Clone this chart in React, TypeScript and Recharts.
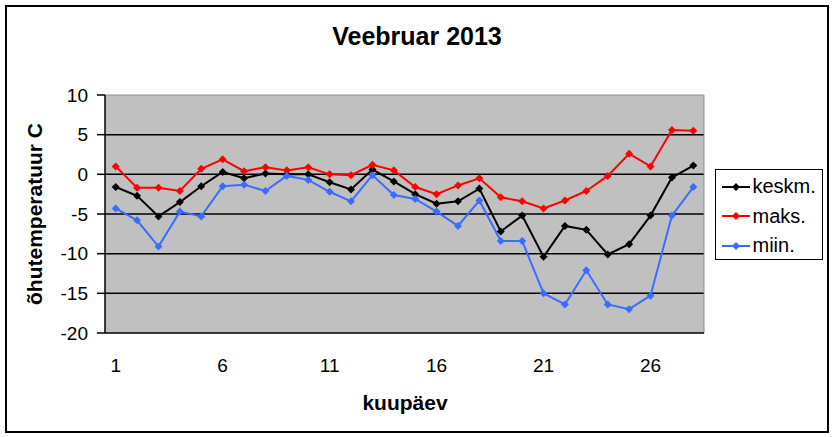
import React from "react";
import { LineChart, Line, XAxis, YAxis, CartesianGrid, ReferenceLine } from "recharts";

const days = [1, 2, 3, 4, 5, 6, 7, 8, 9, 10, 11, 12, 13, 14, 15, 16, 17, 18, 19, 20, 21, 22, 23, 24, 25, 26, 27, 28];
const keskm = [-1.6, -2.7, -5.3, -3.5, -1.5, 0.3, -0.5, 0.1, 0, 0, -1.0, -1.9, 0.6, -0.9, -2.5, -3.7, -3.4, -1.8, -7.2, -5.2, -10.4, -6.5, -7.0, -10.1, -8.8, -5.2, -0.4, 1.1];
const maks = [1.0, -1.7, -1.7, -2.1, 0.7, 1.9, 0.4, 0.9, 0.5, 0.9, 0, -0.1, 1.2, 0.5, -1.6, -2.5, -1.4, -0.5, -2.9, -3.4, -4.3, -3.3, -2.1, -0.2, 2.6, 1.0, 5.6, 5.5];
const miin = [-4.3, -5.8, -9.1, -4.7, -5.3, -1.5, -1.3, -2.1, -0.2, -0.7, -2.2, -3.4, -0.1, -2.6, -3.1, -4.7, -6.5, -3.3, -8.4, -8.4, -15.0, -16.4, -12.1, -16.4, -17.0, -15.3, -5.2, -1.6];

const dayLabels = [1, 6, 11, 16, 21, 26];
const yTicks = [-20, -15, -10, -5, 0, 5, 10];
const gridValues = [5, 0, -5, -10, -15];

const series = [
  { key: "keskm", name: "keskm.", color: "#000000" },
  { key: "maks", name: "maks.", color: "#ff0000" },
  { key: "miin", name: "miin.", color: "#3a6cff" },
];

const data = days.map((day, i) => ({ day, keskm: keskm[i], maks: maks[i], miin: miin[i] }));
// tick marks sit between the days, like a category axis
const boundaryTicks = [0.5, ...days.map((d) => d + 0.5)];

const FONT = '"Liberation Sans", Arial, sans-serif';

function Diamond(props: any) {
  const { cx, cy, stroke } = props;
  if (cx == null || cy == null) return null;
  const r = 4;
  return <polygon points={`${cx},${cy - r} ${cx + r},${cy} ${cx},${cy + r} ${cx - r},${cy}`} fill={stroke} />;
}

function LegendBox() {
  return (
    <div
      style={{
        position: "absolute",
        left: 715,
        top: 169,
        width: 108,
        height: 91,
        border: "1.5px solid #000",
        background: "#fff",
        fontFamily: FONT,
        fontSize: 20,
        paddingTop: 2,
        boxSizing: "border-box",
      }}
    >
      {series.map((s) => (
        <div key={s.key} style={{ display: "flex", alignItems: "center", height: 29.5, paddingLeft: 5.5 }}>
          <svg width={28} height={10} style={{ marginRight: 3 }}>
            <line x1={0} y1={5} x2={28} y2={5} stroke={s.color} strokeWidth={2} />
            <polygon points="14,1 18,5 14,9 10,5" fill={s.color} />
          </svg>
          <span>{s.name}</span>
        </div>
      ))}
    </div>
  );
}

export default function App() {
  return (
    <div style={{ position: "absolute", left: 0, top: 0, width: 834, height: 437, background: "#fff", fontFamily: FONT }}>
      <div
        style={{
          position: "absolute",
          left: 5,
          top: 5,
          width: 824,
          height: 428,
          border: "2px solid #000",
          boxSizing: "border-box",
        }}
      />
      <div
        style={{
          position: "absolute",
          left: 0,
          width: 834,
          top: 22,
          textAlign: "center",
          fontWeight: "bold",
          fontSize: 25,
        }}
      >
        Veebruar 2013
      </div>
      <div
        style={{
          position: "absolute",
          left: 35,
          top: 214,
          transform: "translate(-50%, -50%) rotate(-90deg)",
          whiteSpace: "nowrap",
          fontWeight: "bold",
          fontSize: 21,
        }}
      >
        õhutemperatuur C
      </div>
      <div
        style={{
          position: "absolute",
          left: 405,
          top: 403,
          transform: "translate(-50%, -50%)",
          fontWeight: "bold",
          fontSize: 21,
        }}
      >
        kuupäev
      </div>
      <div style={{ position: "absolute", left: 0, top: 0 }}>
        <LineChart width={834} height={437} data={data} margin={{ top: 95, right: 130, bottom: 56, left: 45 }}>
          <CartesianGrid vertical={false} horizontalValues={gridValues} stroke="#000" strokeWidth={1.5} fill="#c0c0c0" />
          <XAxis
            xAxisId="a"
            type="number"
            dataKey="day"
            domain={[0.5, 28.5]}
            allowDataOverflow
            ticks={boundaryTicks}
            tick={false}
            tickSize={6}
            height={8}
            axisLine={{ stroke: "#000", strokeWidth: 1.5 }}
            tickLine={{ stroke: "#000", strokeWidth: 1.5 }}
          />
          <XAxis
            xAxisId="b"
            type="number"
            dataKey="day"
            domain={[0.5, 28.5]}
            allowDataOverflow
            ticks={dayLabels}
            tickSize={0}
            tickMargin={18}
            height={40}
            axisLine={false}
            tickLine={false}
            tick={{ fill: "#000", fontSize: 19, fontFamily: FONT }}
          />
          <YAxis
            domain={[-20, 10]}
            ticks={yTicks}
            width={60}
            tickSize={8}
            tickMargin={9}
            axisLine={{ stroke: "#000", strokeWidth: 1.5 }}
            tickLine={{ stroke: "#000", strokeWidth: 1.5 }}
            tick={{ fill: "#000", fontSize: 19, fontFamily: FONT }}
          />
          <ReferenceLine xAxisId="a" y={10} stroke="#8c8c8c" strokeWidth={1} />
          <ReferenceLine xAxisId="a" x={28.5} stroke="#8c8c8c" strokeWidth={1} />
          {series.map((s) => (
            <Line
              key={s.key}
              xAxisId="a"
              dataKey={s.key}
              name={s.name}
              stroke={s.color}
              strokeWidth={2}
              dot={<Diamond />}
              activeDot={false}
              isAnimationActive={false}
            />
          ))}
        </LineChart>
      </div>
      <LegendBox />
    </div>
  );
}
